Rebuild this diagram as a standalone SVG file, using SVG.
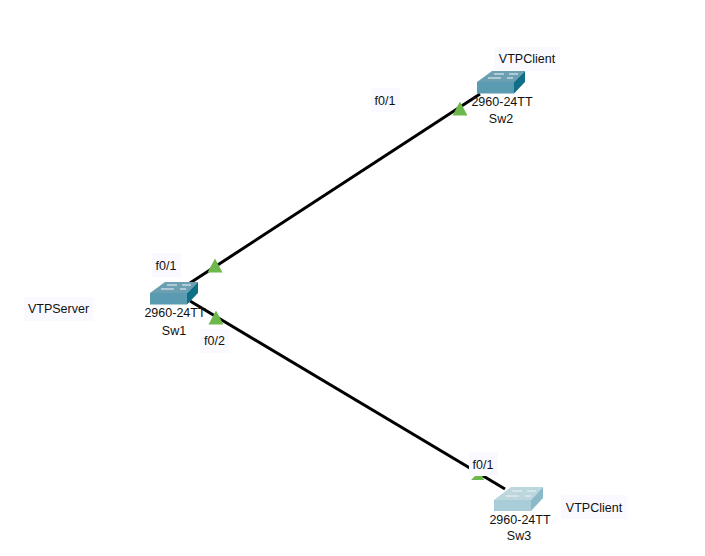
<svg xmlns="http://www.w3.org/2000/svg" width="705" height="556" viewBox="0 0 705 556">
<style>
text{font-family:"Liberation Sans",Arial,sans-serif;font-size:12.500px;fill:#111;text-anchor:middle}
.bg{fill:#f9f9ff}
.link{stroke:#000;stroke-width:3;fill:none}
.tri{fill:#6cb84c}
.top{fill:#6c9fb2}.front{fill:#5b9bb1}.side{fill:#0f6f87}
.ltop{fill:#bcd6de}.lfront{fill:#a9cdd8}.lside{fill:#8ab9c8}
.mark{stroke:#eef6f8;stroke-width:1;fill:none}
</style>
<defs>
<g id="sw">
<path class="front" d="M0 0H37V11.500H0Z"/>
<path class="top" d="M0 0L15-11H48L37 0Z"/>
<path class="side" d="M37 0L48-11V0L37 11.500Z"/>
<path class="mark" d="M17-8H27M32-8H41M11-4H24M30-4H36"/>
</g>
<g id="swl">
<path class="lfront" d="M0 0H37V11H0Z"/>
<path class="ltop" d="M0 0L17-13H49L37 0Z"/>
<path class="lside" d="M37 0L49-13V-2L37 11Z"/>
<path class="mark" d="M18-9H28M33-9H42M12-4H25M31-4H37"/>
</g>
</defs>
<g id="connectors">
<path class="link" d="M190 283L480 94"/>
<path class="link" d="M190 301L505 489"/>
<path class="tri" d="M207.500 272.500L215 258.500L222.500 272.500Z"/>
<path class="tri" d="M208.500 324.500L216 310.500L223.500 324.500Z"/>
<path class="tri" d="M452.500 115.500L460 101.500L467.500 115.500Z"/>
<path class="tri" d="M471 480L476 475H482L484 480Z"/>
</g>
<g id="Sw1"><use href="#sw" x="150" y="293"/>
<text x="175" y="317">2960-24TT</text><text x="174" y="335">Sw1</text></g>
<g id="Sw2"><use href="#sw" x="477" y="82"/>
<text x="502" y="106">2960-24TT</text><text x="501" y="123">Sw2</text></g>
<g id="Sw3"><use href="#swl" x="494" y="500"/>
<text x="520" y="524">2960-24TT</text><text x="519" y="540">Sw3</text></g>
<g id="label-f01-sw1"><rect class="bg" x="152" y="253" width="29" height="24"/><text x="166" y="269.500">f0/1</text></g>
<g id="label-f02-sw1"><rect class="bg" x="200" y="329" width="29" height="24"/><text x="214.500" y="344.500">f0/2</text></g>
<g id="label-f01-sw2"><rect class="bg" x="371" y="88" width="29" height="24"/><text x="385" y="104.500">f0/1</text></g>
<g id="label-f01-sw3"><rect class="bg" x="469" y="452" width="29" height="24"/><text x="483" y="468.500">f0/1</text></g>
<g id="label-vtpserver"><rect class="bg" x="24" y="297" width="69" height="24"/><text x="58.500" y="313">VTPServer</text></g>
<g id="label-vtpclient-sw2"><rect class="bg" x="494" y="47" width="66" height="24"/><text x="527" y="63">VTPClient</text></g>
<g id="label-vtpclient-sw3"><rect class="bg" x="561" y="495" width="66" height="24"/><text x="594" y="512">VTPClient</text></g>
</svg>
